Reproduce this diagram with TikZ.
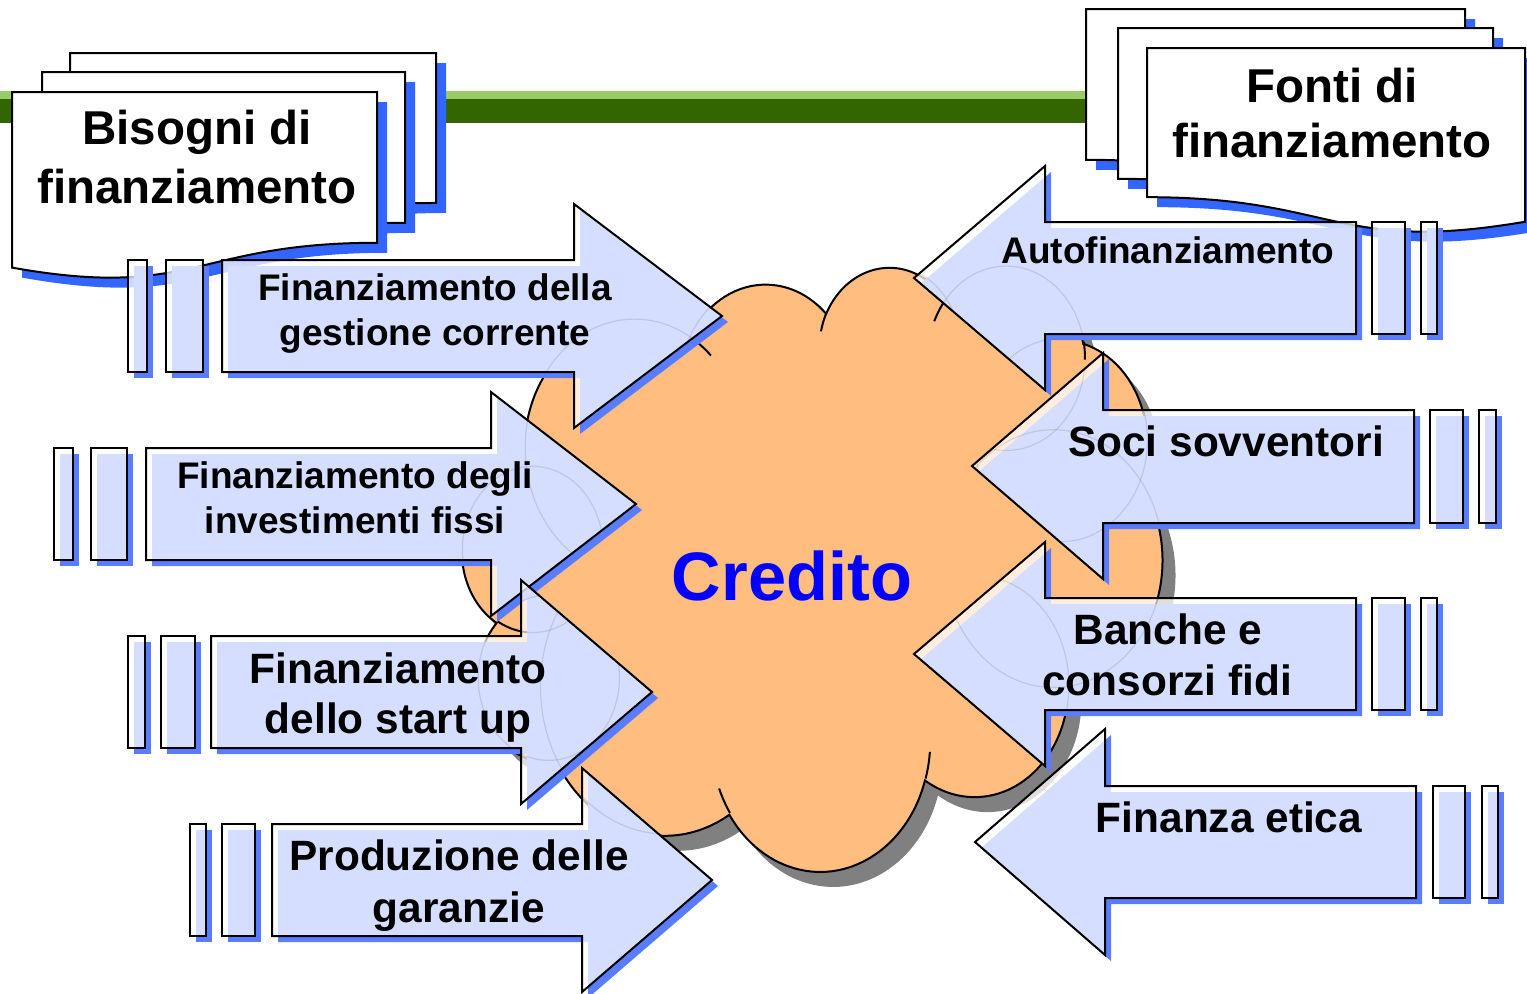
\documentclass[tikz,border=0pt]{standalone}
\usepackage{fontspec}
\setmainfont{Liberation Sans}
\definecolor{arrshadowc}{RGB}{90,125,255}
\definecolor{docshadowc}{RGB}{51,102,255}
\definecolor{cloudfill}{RGB}{255,190,128}
\definecolor{cloudshadowc}{RGB}{128,128,128}
\definecolor{lgreen}{RGB}{153,204,102}
\definecolor{dgreen}{RGB}{51,102,0}
\definecolor{credblue}{RGB}{0,0,255}
\tikzset{
  arrsh/.style={fill=arrshadowc},
  arrfl/.style={fill=white, fill opacity=0.75},
  arrln/.style={draw=black, line width=1pt, line join=miter},
  lobe/.style={draw=gray, draw opacity=0.25, line width=0.6pt},
  docsh/.style={fill=docshadowc},
  docfl/.style={fill=white, draw=black, line width=1pt},
  txs/.style={font=\bfseries\fontsize{18.5}{22}\selectfont, anchor=base, inner sep=0pt},
  txm/.style={font=\bfseries\fontsize{21.2}{25}\selectfont, anchor=base, inner sep=0pt},
  ttl/.style={font=\bfseries\fontsize{23.75}{29}\selectfont, anchor=base, inner sep=0pt},
  cred/.style={font=\bfseries\fontsize{34.3}{40}\selectfont, anchor=base, inner sep=0pt, text=credblue},
  cloudpath/.style={insert path={(38.62,145.02)
    arc[start angle=-187.75, delta angle=128.11, x radius=67.53, y radius=91.90]
    arc[start angle=-152.03, delta angle=106.58, x radius=53.33, y radius=72.67]
    arc[start angle=-153.49, delta angle=116.16, x radius=43.65, y radius=59.45]
    arc[start angle=-139.72, delta angle=129.50, x radius=48.57, y radius=65.95]
    arc[start angle=-74.77, delta angle=97.98, x radius=53.33, y radius=72.73]
    arc[start angle=-37.51, delta angle=119.37, x radius=67.75, y radius=92.20]
    arc[start angle=0.46, delta angle=121.52, x radius=57.85, y radius=78.67]
    arc[start angle=16.84, delta angle=129.38, x radius=67.52, y radius=92.15]
    arc[start angle=58.98, delta angle=91.21, x radius=77.20, y radius=105.43]
    arc[start angle=83.31, delta angle=139.80, x radius=43.60, y radius=59.18]
    arc[start angle=120.36, delta angle=143.75, x radius=43.45, y radius=59.45] -- cycle}},
}
\newcommand\cloudscope[1]{\begin{scope}[shift={(463,264)}]\begin{scope}[x=0.81pt,y=-0.699pt]#1\end{scope}\end{scope}}
\newcommand\lobes{\cloudscope{%
  \draw[lobe] (105.91,131.31) ellipse [x radius=67.53, y radius=91.90];
  \draw[lobe] (187.15,86.10) ellipse [x radius=53.33, y radius=72.67];
  \draw[lobe] (263.62,60.84) ellipse [x radius=43.65, y radius=59.45];
  \draw[lobe] (335.37,67.44) ellipse [x radius=48.57, y radius=65.95];
  \draw[lobe] (369.16,125.92) ellipse [x radius=53.33, y radius=72.73];
  \draw[lobe] (364.43,210.71) ellipse [x radius=67.75, y radius=92.20];
  \draw[lobe] (316.17,301.35) ellipse [x radius=57.85, y radius=78.67];
  \draw[lobe] (220.91,341.38) ellipse [x radius=67.52, y radius=92.15];
  \draw[lobe] (125.02,302.25) ellipse [x radius=77.20, y radius=105.43];
  \draw[lobe] (52.95,295.88) ellipse [x radius=43.60, y radius=59.18];
  \draw[lobe] (43.08,204.15) ellipse [x radius=43.45, y radius=59.45];}}
\newcommand\arrowshape[1]{%
  \fill[arrsh,shift={(6,6)}] #1;
  \fill[arrfl] #1;
  \begin{scope}\clip #1; \lobes\end{scope}
  \draw[arrln] #1;}
\newcommand\docpath[4]{(#1,#2) -- ({#1+#3},#2) -- ({#1+#3},{#2+0.802*#4}) .. controls ({#1+0.5*#3},{#2+0.802*#4}) and ({#1+0.5*#3},{#2+1.1075*#4}) .. (#1,{#2+0.934*#4}) -- cycle}
\newcommand\docflip[4]{(#1,#2) -- ({#1+#3},#2) -- ({#1+#3},{#2+0.934*#4}) .. controls ({#1+0.5*#3},{#2+1.1075*#4}) and ({#1+0.5*#3},{#2+0.802*#4}) .. (#1,{#2+0.802*#4}) -- cycle}
\begin{document}
\begin{tikzpicture}[x=0.5pt,y=-0.5pt]
\useasboundingbox (0,0) rectangle (1527,993);
% green band
\fill[lgreen] (0,91) rectangle (1090,99);
\fill[dgreen] (0,99) rectangle (1090,123);
% left documents
\fill[docsh,shift={(10,10)}] \docpath{70}{53}{366}{187};
\filldraw[docfl] \docpath{70}{53}{366}{187};
\fill[docsh,shift={(10,10)}] \docpath{42}{72}{363}{188};
\filldraw[docfl] \docpath{42}{72}{363}{188};
\fill[docsh,shift={(10,10)}] \docpath{12}{92}{365}{188};
\filldraw[docfl] \docpath{12}{92}{365}{188};
\node[ttl] (bis1) at (197,144) {Bisogni di};
\node[ttl] (bis2) at (197,203) {finanziamento};
% right documents
\fill[docsh,shift={(10,10)}] \docflip{1086}{9}{379}{188};
\filldraw[docfl] \docflip{1086}{9}{379}{188};
\fill[docsh,shift={(10,10)}] \docflip{1118}{28}{375}{188};
\filldraw[docfl] \docflip{1118}{28}{375}{188};
\fill[docsh,shift={(10,10)}] \docflip{1147}{48}{378}{186};
\filldraw[docfl] \docflip{1147}{48}{378}{186};
\node[ttl] (fon1) at (1332,102) {Fonti di};
\node[ttl] (fon2) at (1332,157) {finanziamento};
% cloud
\cloudscope{%
  \fill[cloudshadowc,xshift=6.5pt,yshift=-7.5pt,cloudpath];
  \filldraw[fill=cloudfill,draw=black,line width=1pt,cloudpath];
  \begin{scope}[line width=1pt]
  \draw (46.46,263.42) arc[start angle=85.54, delta angle=34.82, x radius=43.45, y radius=59.45];
  \draw (69.12,350.84) arc[start angle=68.23, delta angle=15.08, x radius=43.60, y radius=59.18];
  \draw (164.79,392.61) arc[start angle=146.22, delta angle=12.25, x radius=67.52, y radius=92.15];
  \draw (288.20,348.99) arc[start angle=4.74, delta angle=12.10, x radius=67.52, y radius=92.15];
  \draw (341.50,230.63) arc[start angle=-64.03, delta angle=64.49, x radius=57.85, y radius=78.67];
  \draw (418.18,154.58) arc[start angle=23.21, delta angle=26.44, x radius=53.33, y radius=72.73];
  \draw (383.17,55.74) arc[start angle=-10.22, delta angle=11.05, x radius=48.57, y radius=65.95];
  \draw (290.89,40.93) arc[start angle=-156.30, delta angle=16.58, x radius=48.57, y radius=65.95];
  \draw (220.97,48.19) arc[start angle=-167.72, delta angle=14.23, x radius=43.65, y radius=59.45];
  \draw (140.05,52.02) arc[start angle=-59.64, delta angle=13.90, x radius=67.53, y radius=91.90];
  \draw (41.26,157.89) arc[start angle=163.19, delta angle=9.06, x radius=67.53, y radius=91.90];
  \end{scope}}
\node[cred] (credito) at (792,600) {Credito};
% left arrows
\arrowshape{(128,260) rectangle (147,372)}
\arrowshape{(166,260) rectangle (203,372)}
\arrowshape{(222,260) -- (574,260) -- (574,204) -- (722,316) -- (574,428) -- (574,372) -- (222,372) -- cycle}
\node[txs] (a1a) at (435,300) {Finanziamento della};
\node[txs] (a1b) at (435,345) {gestione corrente};
\arrowshape{(54,448) rectangle (73,560)}
\arrowshape{(91,448) rectangle (127,560)}
\arrowshape{(146,448) -- (491,448) -- (491,392) -- (636,504) -- (491,616) -- (491,560) -- (146,560) -- cycle}
\node[txs] (a2a) at (355,488) {Finanziamento degli};
\node[txs] (a2b) at (355,533) {investimenti fissi};
\arrowshape{(128,636) rectangle (145,748)}
\arrowshape{(161,636) rectangle (195,748)}
\arrowshape{(211,636) -- (521,636) -- (521,580) -- (652,692) -- (521,804) -- (521,748) -- (211,748) -- cycle}
\node[txm] (a3a) at (398,683) {Finanziamento};
\node[txm] (a3b) at (398,733) {dello start up};
\arrowshape{(190,824) rectangle (206,936)}
\arrowshape{(222,824) rectangle (255,936)}
\arrowshape{(272,824) -- (582,824) -- (582,768) -- (712,880) -- (582,992) -- (582,936) -- (272,936) -- cycle}
\node[txm] (a4a) at (459,870) {Produzione delle};
\node[txm] (a4b) at (459,922) {garanzie};
% right arrows
\arrowshape{(914,278) -- (1045,166) -- (1045,222) -- (1356,222) -- (1356,334) -- (1045,334) -- (1045,390) -- cycle}
\arrowshape{(1372,222) rectangle (1405,334)}
\arrowshape{(1421,222) rectangle (1437,334)}
\node[txs] (b1) at (1168,263) {Autofinanziamento};
\arrowshape{(972,466) -- (1103,353) -- (1103,410) -- (1414,410) -- (1414,523) -- (1103,523) -- (1103,579) -- cycle}
\arrowshape{(1430,410) rectangle (1463,523)}
\arrowshape{(1479,410) rectangle (1496,523)}
\node[txm] (b2) at (1226,456) {Soci sovventori};
\arrowshape{(914,654) -- (1045,542) -- (1045,598) -- (1356,598) -- (1356,710) -- (1045,710) -- (1045,766) -- cycle}
\arrowshape{(1372,598) rectangle (1405,710)}
\arrowshape{(1421,598) rectangle (1437,710)}
\node[txm] (b3a) at (1168,644) {Banche e};
\node[txm] (b3b) at (1167,695) {consorzi fidi};
\arrowshape{(975,842) -- (1105,729) -- (1105,786) -- (1416,786) -- (1416,898) -- (1105,898) -- (1105,955) -- cycle}
\arrowshape{(1433,786) rectangle (1465,898)}
\arrowshape{(1482,786) rectangle (1498,898)}
\node[txm] (b4) at (1229,832) {Finanza etica};
\end{tikzpicture}
\end{document}
